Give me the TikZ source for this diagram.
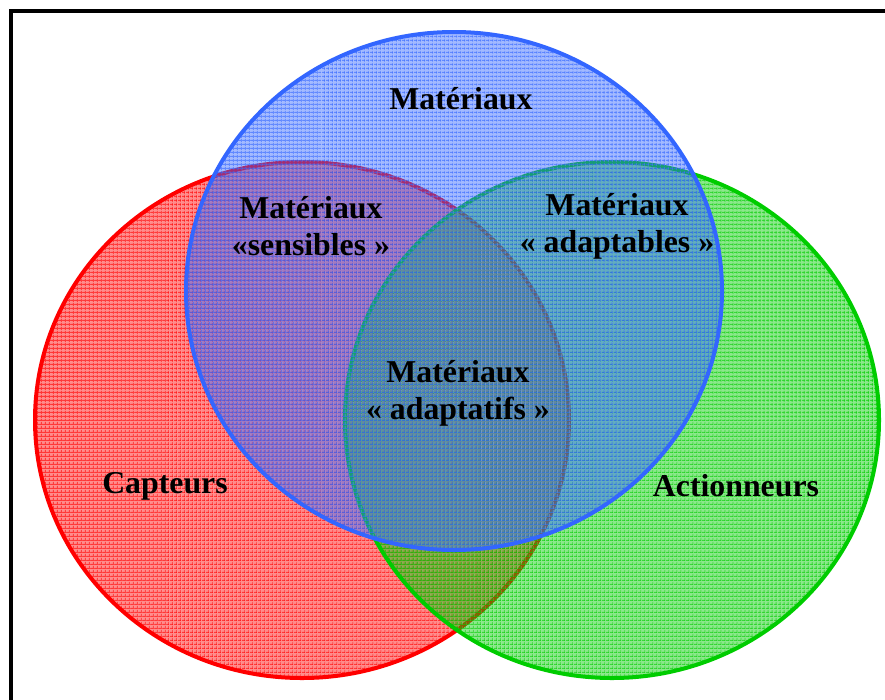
\documentclass[tikz,border=0pt]{standalone}
\usepackage{fontspec}
\setmainfont{Liberation Serif}
\usetikzlibrary{patterns.meta}
\definecolor{setred}{RGB}{255,0,0}
\definecolor{setgreen}{RGB}{0,204,0}
\definecolor{setblue}{RGB}{51,102,255}
\begin{document}
\begin{tikzpicture}[x=1pt,y=-1pt,
  setdisc/.style={line width=4pt, draw=#1,
    preaction={fill=#1, fill opacity=0.45},
    preaction={pattern={Lines[angle=0,distance=4pt,line width=1pt]}, pattern color=#1, fill opacity=0.6},
    preaction={pattern={Lines[angle=90,distance=4pt,line width=1pt]}, pattern color=#1, fill opacity=0.6}},
  lbl/.style={font=\fontsize{31.8}{37}\selectfont\bfseries, align=center, text=black, inner sep=0pt}]
  \useasboundingbox (0,0) rectangle (885,699);
  \clip (0,0) rectangle (885,699);
  % outer frame
  \draw[line width=4pt, black] (11,10.5) rectangle (920,740);
  % the three sets
  \path[setdisc=setred]   (302,420) ellipse [x radius=267pt, y radius=258pt];
  \path[setdisc=setgreen] (612,420) ellipse [x radius=267pt, y radius=258pt];
  \path[setdisc=setblue]  (454,291) ellipse [x radius=268pt, y radius=259pt];
  % labels
  \node[lbl] (materiaux)   at (461,99)  {Matériaux};
  \node[lbl] (sensibles)   at (311,226) {Matériaux\\«sensibles »};
  \node[lbl] (adaptables)  at (617,226) {Matériaux\\« adaptables »};
  \node[lbl] (adaptatifs)  at (458,393) {Matériaux\\« adaptatifs »};
  \node[lbl] (capteurs)    at (165,486) {Capteurs};
  \node[lbl] (actionneurs) at (736,486) {Actionneurs};
\end{tikzpicture}
\end{document}
